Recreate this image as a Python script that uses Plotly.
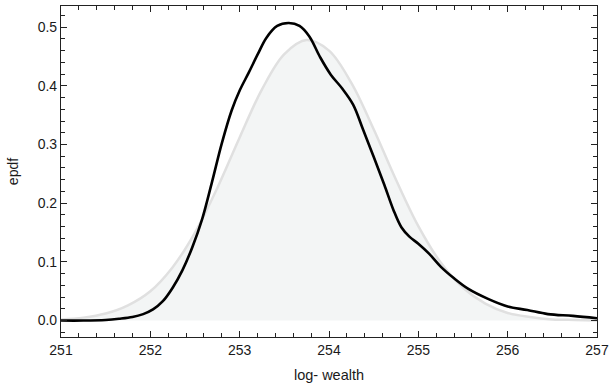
import plotly.graph_objects as go

# Reference (normal-like) density
ref_x = [251.0, 251.25, 251.5, 251.75, 252.0, 252.25, 252.5, 252.75, 253.0, 253.25,
         253.5, 253.75, 254.0, 254.25, 254.5, 254.75, 255.0, 255.25, 255.5, 255.75,
         256.0, 256.25, 256.5, 256.75, 257.0]
ref_y = [0.002, 0.005, 0.012, 0.026, 0.050, 0.091, 0.150, 0.226, 0.312, 0.394,
         0.454, 0.478, 0.460, 0.405, 0.326, 0.240, 0.161, 0.099, 0.056, 0.029,
         0.013, 0.006, 0.002, 0.001, 0.0003]

epdf_x = [251.0, 251.25, 251.5, 251.65, 251.8, 251.92, 252.03, 252.14, 252.25, 252.36,
          252.47, 252.58, 252.69, 252.8, 252.91, 253.0, 253.1, 253.2, 253.3, 253.42,
          253.55, 253.67, 253.78, 253.9, 254.02, 254.15, 254.27, 254.38, 254.5, 254.62,
          254.72, 254.81, 254.9, 255.0, 255.12, 255.25, 255.4, 255.56, 255.78, 256.0,
          256.22, 256.45, 256.73, 257.0]
epdf_y = [0.0, 0.0, 0.001, 0.003, 0.006, 0.011, 0.019, 0.033, 0.056, 0.086,
          0.125, 0.173, 0.236, 0.302, 0.358, 0.392, 0.422, 0.453, 0.482, 0.502,
          0.507, 0.502, 0.484, 0.449, 0.419, 0.395, 0.368, 0.326, 0.279, 0.231,
          0.189, 0.159, 0.143, 0.131, 0.114, 0.092, 0.072, 0.054, 0.037, 0.024,
          0.018, 0.011, 0.008, 0.004]

x_ticks = [251, 252, 253, 254, 255, 256, 257]
y_ticks = [0.0, 0.1, 0.2, 0.3, 0.4, 0.5]
y_labels = ["0.0", "0.1", "0.2", "0.3", "0.4", "0.5"]

FONT = "Liberation Sans, Arial, sans-serif"

fig = go.Figure()
fig.add_trace(go.Scatter(
    x=ref_x, y=ref_y, mode="lines", line=dict(color="#e0e0e0", width=2.5, shape="spline"),
    fill="tozeroy", fillcolor="#f3f5f5", hoverinfo="skip", showlegend=False))
fig.add_trace(go.Scatter(
    x=epdf_x, y=epdf_y, mode="lines", line=dict(color="black", width=2.6, shape="spline", smoothing=1.0),
    showlegend=False))

axis_common = dict(
    showgrid=False, zeroline=False, showline=True, linecolor="#222222", linewidth=1.2,
    mirror="ticks", ticks="inside", ticklen=6, tickwidth=1.2, tickcolor="#222222",
    tickfont=dict(family=FONT, size=14, color="#1a1a1a"),
)

fig.update_xaxes(
    range=[251, 257], tickvals=x_ticks, ticklabeloverflow="allow",
    minor=dict(ticks="inside", ticklen=4, tickwidth=1, tickmode="linear", tick0=251, dtick=0.2,
               tickcolor="#222222", showgrid=False),
    title=dict(text="log- wealth", font=dict(family=FONT, size=14.5, color="#1a1a1a"), standoff=12),
    **axis_common)
fig.update_yaxes(
    range=[-0.028, 0.536], tickvals=y_ticks, ticktext=y_labels,
    minor=dict(ticks="inside", ticklen=4, tickwidth=1, tickmode="linear", tick0=0, dtick=0.02,
               tickcolor="#222222", showgrid=False),
    title=dict(text="epdf", font=dict(family=FONT, size=14, color="#1a1a1a"), standoff=15),
    **axis_common)

fig.update_layout(
    width=609, height=387,
    margin=dict(l=61, r=12, t=6, b=50, autoexpand=False),
    plot_bgcolor="white", paper_bgcolor="white",
)

fig.write_html("out.html")
